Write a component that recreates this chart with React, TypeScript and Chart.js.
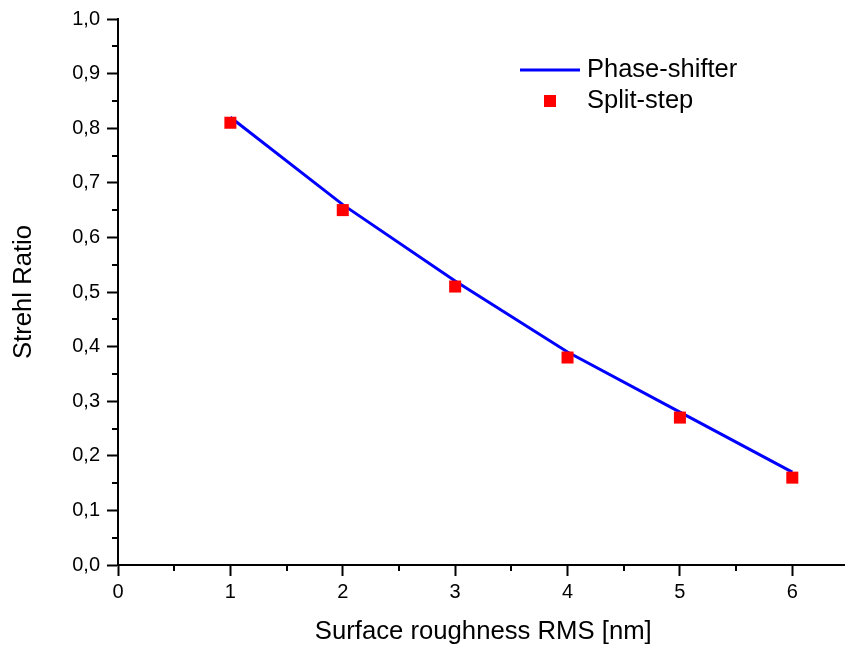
import React, { useEffect, useRef } from "react";
import { Chart, registerables } from "chart.js";

Chart.register(...registerables);

const roughness = [1, 2, 3, 4, 5, 6];
const phaseShifter = [0.82, 0.66, 0.52, 0.39, 0.28, 0.17];
const splitStep = [0.81, 0.65, 0.51, 0.38, 0.27, 0.16];
const seriesNames = ["Phase-shifter", "Split-step"];
const xTitle = "Surface roughness RMS [nm]";
const yTitle = "Strehl Ratio";

const FONT = "'Liberation Sans', Arial, sans-serif";

const isMultiple = (v: number, step: number) =>
  Math.abs(v / step - Math.round(v / step)) < 1e-6;

const minorTicks = {
  id: "minorTicks",
  afterDraw(chart: any) {
    const ctx = chart.ctx;
    ctx.save();
    ctx.strokeStyle = "#000";
    ctx.lineWidth = 2;
    const xs = chart.scales.x;
    const ys = chart.scales.y;
    const bottom = chart.chartArea.bottom;
    const left = chart.chartArea.left;
    xs.ticks.forEach((t: any) => {
      if (!isMultiple(t.value, 1)) {
        const px = Math.round(xs.getPixelForValue(t.value));
        ctx.beginPath();
        ctx.moveTo(px, bottom);
        ctx.lineTo(px, bottom + 6);
        ctx.stroke();
      }
    });
    ys.ticks.forEach((t: any) => {
      if (!isMultiple(t.value, 0.1)) {
        const py = Math.round(ys.getPixelForValue(t.value));
        ctx.beginPath();
        ctx.moveTo(left, py);
        ctx.lineTo(left - 6, py);
        ctx.stroke();
      }
    });
    ctx.restore();
  },
};

const innerLegend = {
  id: "innerLegend",
  afterDraw(chart: any) {
    const ctx = chart.ctx;
    const ds0 = chart.data.datasets[0];
    const ds1 = chart.data.datasets[1];
    ctx.save();
    ctx.font = `25.5px ${FONT}`;
    ctx.fillStyle = "#000";
    ctx.textBaseline = "middle";
    ctx.textAlign = "left";
    ctx.strokeStyle = ds0.borderColor;
    ctx.lineWidth = ds0.borderWidth;
    ctx.beginPath();
    ctx.moveTo(520, 70);
    ctx.lineTo(580, 70);
    ctx.stroke();
    ctx.fillText(ds0.label, 587, 70);
    ctx.fillStyle = ds1.backgroundColor;
    ctx.fillRect(544, 95, 12, 12);
    ctx.fillStyle = "#000";
    ctx.fillText(ds1.label, 587, 101);
    ctx.restore();
  },
};

export default function App() {
  const ref = useRef<HTMLCanvasElement>(null);

  useEffect(() => {
    const canvas = ref.current!;
    const chart = new Chart(canvas, {
      type: "scatter",
      data: {
        datasets: [
          {
            type: "line",
            label: seriesNames[0],
            data: roughness.map((x, i) => ({ x, y: phaseShifter[i] })),
            borderColor: "#0000ff",
            backgroundColor: "#0000ff",
            borderWidth: 3,
            pointRadius: 0,
            tension: 0,
            order: 2,
            clip: false,
          } as any,
          {
            type: "scatter",
            label: seriesNames[1],
            data: roughness.map((x, i) => ({ x, y: splitStep[i] })),
            backgroundColor: "#ff0000",
            borderColor: "#ff0000",
            borderWidth: 0,
            pointStyle: "rect",
            pointRadius: 8.5,
            pointHoverRadius: 8.5,
            order: 1,
            clip: false,
          } as any,
        ],
      },
      options: {
        responsive: false,
        animation: false,
        layout: { padding: { top: 18, left: 0, right: 0, bottom: 0 } },
        plugins: {
          legend: { display: false },
          tooltip: { enabled: false },
        },
        scales: {
          x: {
            type: "linear",
            min: 0,
            max: 6.5,
            afterFit: (s: any) => {
              s.height = 80;
            },
            ticks: {
              stepSize: 0.5,
              autoSkip: false,
              maxRotation: 0,
              color: "#000",
              padding: 4,
              font: { family: FONT, size: 20 },
              callback: (v: any) => (isMultiple(Number(v), 1) ? String(Math.round(Number(v))) : ""),
            },
            grid: {
              drawOnChartArea: false,
              drawTicks: true,
              tickLength: 11,
              tickWidth: 2,
              tickColor: (c: any) =>
                c.tick && isMultiple(c.tick.value, 1) ? "#000" : "rgba(0,0,0,0)",
            },
            border: { display: true, color: "#000", width: 2 },
            title: {
              display: true,
              text: xTitle,
              color: "#000",
              font: { family: FONT, size: 25.7 },
              padding: { top: 0, bottom: -2 },
            },
          },
          y: {
            type: "linear",
            min: 0,
            max: 1,
            afterFit: (s: any) => {
              s.width = 118;
            },
            ticks: {
              stepSize: 0.05,
              autoSkip: false,
              color: "#000",
              padding: 7,
              font: { family: FONT, size: 20 },
              callback: (v: any) =>
                isMultiple(Number(v), 0.1) ? Number(v).toFixed(1).replace(".", ",") : "",
            },
            grid: {
              drawOnChartArea: false,
              drawTicks: true,
              tickLength: 11,
              tickWidth: 2,
              tickColor: (c: any) =>
                c.tick && isMultiple(c.tick.value, 0.1) ? "#000" : "rgba(0,0,0,0)",
            },
            border: { display: true, color: "#000", width: 2 },
            title: {
              display: true,
              text: yTitle,
              color: "#000",
              font: { family: FONT, size: 25.7 },
              padding: { top: 8, bottom: 0 },
            },
          },
        },
      },
      plugins: [minorTicks, innerLegend],
    });
    return () => chart.destroy();
  }, []);

  return (
    <div
      style={{
        position: "absolute",
        left: 0,
        top: 0,
        width: 845,
        height: 645,
        overflow: "hidden",
        background: "#fff",
      }}
    >
      <canvas ref={ref} width={857} height={645} style={{ width: 857, height: 645 }} />
    </div>
  );
}
